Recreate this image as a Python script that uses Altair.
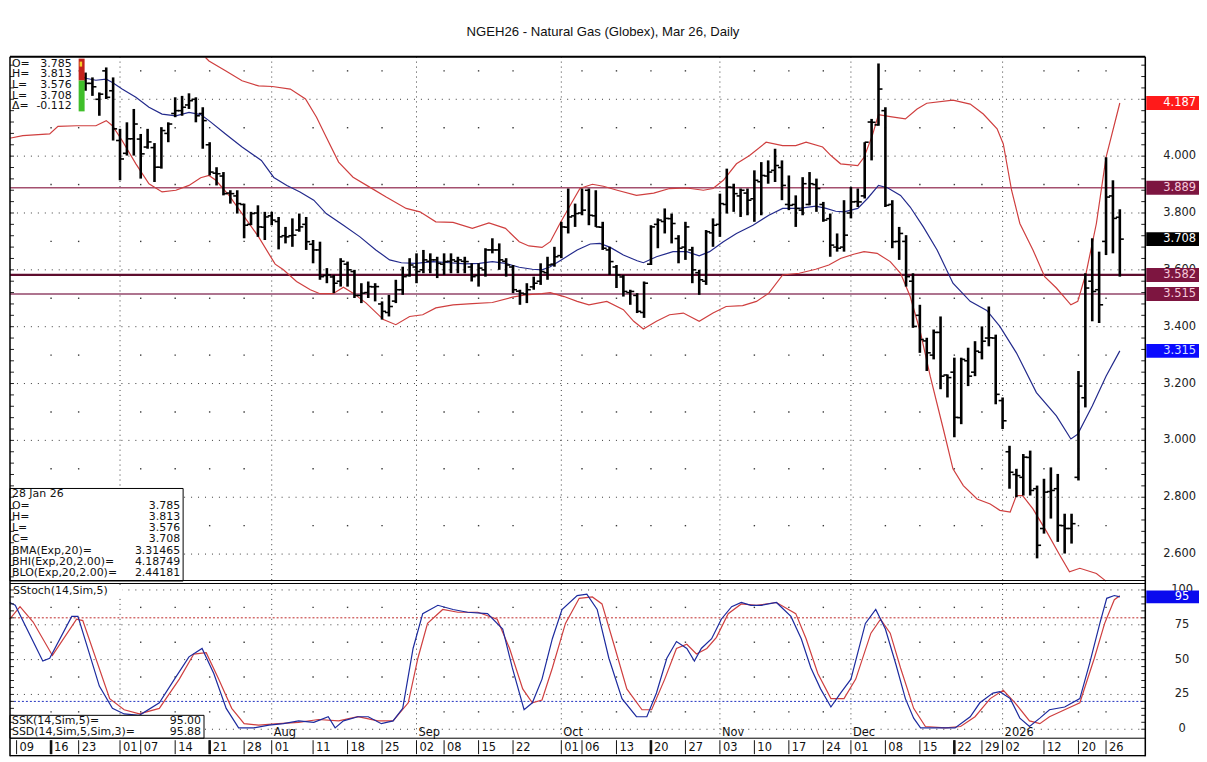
import altair as alt
import pandas as pd

TITLE = "NGEH26 - Natural Gas (Globex), Mar 26, Daily"

# ---------------- price bars (trading-day index, 0 = 23 Jun 2025) ----------------
DAYS = list(range(1, 152))
OPEN = [4.276, 4.256, 4.200, 4.300, 4.230, 4.055, 4.010, 4.061, 4.060, 4.032,
        4.030, 3.961, 4.080, 4.150, 4.160, 4.180, 4.200, 4.150, 4.040, 3.940,
        3.930, 3.870, 3.860, 3.830, 3.760, 3.800, 3.750, 3.790, 3.770, 3.720,
        3.720, 3.740, 3.760, 3.690, 3.670, 3.580, 3.575, 3.560, 3.620, 3.594,
        3.510, 3.520, 3.540, 3.480, 3.450, 3.490, 3.530, 3.580, 3.610, 3.600,
        3.630, 3.635, 3.620, 3.630, 3.630, 3.630, 3.610, 3.580, 3.600, 3.670,
        3.670, 3.630, 3.610, 3.525, 3.515, 3.540, 3.560, 3.590, 3.620, 3.650,
        3.750, 3.790, 3.800, 3.880, 3.790, 3.750, 3.670, 3.610, 3.575, 3.520,
        3.510, 3.450, 3.620, 3.760, 3.770, 3.780, 3.710, 3.680, 3.670, 3.590,
        3.560, 3.730, 3.760, 3.830, 3.890, 3.860, 3.870, 3.850, 3.910, 3.930,
        3.950, 3.960, 3.830, 3.830, 3.810, 3.830, 3.900, 3.830, 3.780, 3.680,
        3.680, 3.800, 3.840, 3.860, 4.120, 4.110, 4.160, 3.830, 3.700, 3.700,
        3.560, 3.440, 3.350, 3.300, 3.380, 3.230, 3.240, 3.080, 3.280, 3.240,
        3.310, 3.360, 3.360, 3.140, 2.960, 2.880, 2.870, 2.940, 2.830, 2.690,
        2.820, 2.830, 2.700, 2.690, 2.870, 3.150, 3.560, 3.530, 3.700, 3.860,
        3.785]
HIGH = [4.294, 4.277, 4.224, 4.312, 4.277, 4.096, 4.119, 4.166, 4.078, 4.096,
        4.046, 4.102, 4.119, 4.207, 4.212, 4.221, 4.207, 4.172, 4.049, 3.961,
        3.944, 3.880, 3.880, 3.833, 3.804, 3.827, 3.804, 3.804, 3.786, 3.751,
        3.781, 3.798, 3.786, 3.705, 3.699, 3.606, 3.582, 3.641, 3.629, 3.600,
        3.553, 3.559, 3.553, 3.489, 3.512, 3.565, 3.611, 3.641, 3.658, 3.670,
        3.658, 3.646, 3.658, 3.658, 3.646, 3.646, 3.623, 3.623, 3.676, 3.711,
        3.693, 3.641, 3.617, 3.530, 3.553, 3.576, 3.623, 3.646, 3.681, 3.769,
        3.886, 3.833, 3.886, 3.886, 3.880, 3.769, 3.681, 3.617, 3.582, 3.530,
        3.518, 3.559, 3.757, 3.781, 3.816, 3.798, 3.722, 3.769, 3.681, 3.600,
        3.740, 3.781, 3.868, 3.956, 3.903, 3.886, 3.886, 3.950, 3.979, 3.985,
        4.026, 3.985, 3.932, 3.862, 3.926, 3.944, 3.921, 3.839, 3.798, 3.728,
        3.845, 3.891, 3.886, 4.049, 4.131, 4.326, 4.172, 3.845, 3.751, 3.722,
        3.588, 3.477, 3.361, 3.390, 3.436, 3.232, 3.291, 3.291, 3.326, 3.349,
        3.401, 3.471, 3.372, 3.151, 2.981, 2.900, 2.952, 2.964, 2.841, 2.865,
        2.905, 2.882, 2.742, 2.742, 3.244, 3.588, 3.711, 3.664, 3.996, 3.915,
        3.813]
LOW = [4.230, 4.212, 4.142, 4.201, 4.055, 3.915, 4.002, 4.002, 3.921, 4.026,
       3.909, 3.956, 4.049, 4.137, 4.142, 4.166, 4.119, 4.026, 3.932, 3.897,
       3.862, 3.833, 3.798, 3.711, 3.757, 3.716, 3.705, 3.757, 3.672, 3.693,
       3.681, 3.734, 3.670, 3.623, 3.565, 3.553, 3.518, 3.541, 3.541, 3.501,
       3.483, 3.501, 3.489, 3.425, 3.436, 3.483, 3.512, 3.576, 3.553, 3.588,
       3.588, 3.571, 3.582, 3.588, 3.588, 3.588, 3.559, 3.541, 3.576, 3.658,
       3.600, 3.576, 3.518, 3.477, 3.483, 3.530, 3.547, 3.565, 3.611, 3.641,
       3.728, 3.751, 3.792, 3.757, 3.751, 3.670, 3.582, 3.536, 3.506, 3.477,
       3.448, 3.431, 3.617, 3.676, 3.728, 3.693, 3.623, 3.635, 3.553, 3.512,
       3.547, 3.681, 3.716, 3.798, 3.804, 3.786, 3.792, 3.769, 3.792, 3.903,
       3.909, 3.845, 3.810, 3.751, 3.792, 3.827, 3.804, 3.769, 3.646, 3.664,
       3.664, 3.781, 3.821, 3.851, 3.985, 4.107, 3.821, 3.676, 3.635, 3.541,
       3.396, 3.308, 3.244, 3.285, 3.180, 3.151, 3.011, 3.057, 3.191, 3.226,
       3.285, 3.331, 3.127, 3.040, 2.830, 2.800, 2.806, 2.806, 2.585, 2.672,
       2.725, 2.643, 2.602, 2.637, 2.859, 3.116, 3.419, 3.413, 3.652, 3.658,
       3.576]
CLOSE = [4.256, 4.244, 4.218, 4.207, 4.096, 3.990, 4.061, 4.113, 4.008, 4.050,
         3.961, 4.090, 4.113, 4.160, 4.172, 4.195, 4.142, 4.125, 3.944, 3.938,
         3.868, 3.868, 3.833, 3.757, 3.798, 3.751, 3.786, 3.775, 3.716, 3.716,
         3.722, 3.751, 3.699, 3.670, 3.576, 3.582, 3.553, 3.630, 3.600, 3.510,
         3.518, 3.541, 3.541, 3.454, 3.471, 3.530, 3.576, 3.617, 3.594, 3.635,
         3.635, 3.623, 3.629, 3.635, 3.635, 3.629, 3.576, 3.606, 3.670, 3.670,
         3.635, 3.617, 3.530, 3.518, 3.530, 3.553, 3.594, 3.617, 3.646, 3.751,
         3.786, 3.798, 3.810, 3.792, 3.751, 3.676, 3.629, 3.582, 3.524, 3.524,
         3.454, 3.553, 3.751, 3.775, 3.781, 3.763, 3.676, 3.751, 3.600, 3.565,
         3.734, 3.757, 3.833, 3.891, 3.868, 3.880, 3.845, 3.915, 3.932, 3.944,
         3.967, 3.897, 3.827, 3.816, 3.903, 3.903, 3.886, 3.775, 3.687, 3.676,
         3.722, 3.839, 3.839, 4.049, 4.119, 4.236, 3.827, 3.699, 3.728, 3.576,
         3.401, 3.355, 3.308, 3.380, 3.226, 3.221, 3.081, 3.285, 3.226, 3.314,
         3.349, 3.361, 3.162, 3.069, 2.888, 2.876, 2.941, 2.824, 2.631, 2.818,
         2.824, 2.701, 2.690, 2.707, 3.191, 3.536, 3.524, 3.477, 3.856, 3.781,
         3.708]

# ---------------- Bollinger bands ----------------
BBU_DAY = [18.4, 18.9, 21.3, 23.7, 26.1, 28.1, 30.7, 32.9, 34.5, 35.9,
           37.7, 39.8, 42.2, 44.6, 47.5, 49.5, 51.8, 54.3, 57.1, 59.5,
           61.9, 63.9, 65.3, 67.2, 68.4, 69.8, 71.3, 72.7, 74.5, 76.1,
           78.1, 80.9, 83.4, 85.7, 88.2, 90.6, 92.0, 93.5, 95.4, 97.3,
           99.7, 102.1, 104.0, 105.5, 107.9, 109.1, 110.5, 113.0, 113.9, 115.1,
           116.0, 117.7, 119.9, 121.6, 123.0, 126.8, 129.3, 131.2, 133.2, 134.1,
           135.3, 136.5, 138.4, 140.1, 141.8, 143.9, 144.9, 146.1, 147.6, 149.0,
           151]
BBU = [4.347, 4.335, 4.300, 4.265, 4.247, 4.245, 4.236, 4.201, 4.137, 4.067,
       3.979, 3.926, 3.891, 3.856, 3.816, 3.804, 3.769, 3.767, 3.746, 3.765,
       3.746, 3.699, 3.684, 3.679, 3.699, 3.763, 3.827, 3.886, 3.901, 3.894,
       3.880, 3.862, 3.870, 3.886, 3.888, 3.880, 3.886, 3.915, 3.973, 4.002,
       4.049, 4.037, 4.037, 4.049, 4.032, 4.002, 3.973, 3.967, 3.996, 4.072,
       4.146, 4.139, 4.131, 4.166, 4.186, 4.197, 4.183, 4.148, 4.096, 4.043,
       3.880, 3.763, 3.670, 3.576, 3.536, 3.477, 3.489, 3.588, 3.763, 3.996,
       4.187]
BBM_DAY = [1, 2.5, 4, 4.9, 6.3, 8.3, 10.2, 12.1, 14.1, 16,
           17.7, 18.9, 21.3, 23.7, 26.5, 28.3, 30.2, 32.1, 34.1, 35.9,
           38.4, 40.8, 43.1, 45.1, 46.8, 48.9, 51.4, 53.8, 56.1, 58.1,
           60.0, 61.9, 63.9, 65.8, 67.2, 68.4, 70.4, 72.3, 74.2, 75.6,
           77.1, 79.0, 81.0, 81.9, 83.8, 86.2, 88.2, 90.0, 91.5, 93.5,
           95.4, 97.8, 100.1, 102.1, 104.5, 106.9, 108.4, 109.8, 111.0, 113.0,
           114.4, 116.0, 117.3, 119.2, 120.6, 122.5, 124.5, 126.8, 129.3, 131.7,
           133.6, 136.0, 138.9, 141.8, 143.9, 144.9, 147.0, 149.0, 151]
BBM = [4.274, 4.267, 4.271, 4.259, 4.236, 4.207, 4.172, 4.148, 4.142, 4.154,
       4.146, 4.125, 4.078, 4.032, 3.985, 3.925, 3.897, 3.874, 3.845, 3.798,
       3.757, 3.716, 3.670, 3.635, 3.625, 3.623, 3.629, 3.625, 3.621, 3.623,
       3.629, 3.623, 3.609, 3.602, 3.600, 3.611, 3.641, 3.670, 3.691, 3.693,
       3.679, 3.652, 3.632, 3.625, 3.646, 3.664, 3.664, 3.649, 3.664, 3.699,
       3.728, 3.757, 3.792, 3.816, 3.816, 3.824, 3.816, 3.806, 3.804, 3.816,
       3.851, 3.897, 3.889, 3.862, 3.821, 3.751, 3.670, 3.553, 3.489, 3.457,
       3.401, 3.308, 3.168, 3.086, 3.005, 3.022, 3.121, 3.226, 3.315]
BBL_DAY = [-10, -8.1, -4.2, -3.0, -0.3, 2.5, 4, 4.9, 6.3, 8.3,
           10.2, 12.1, 14.1, 16, 17.7, 18.9, 19.9, 21.8, 23.7, 26.1,
           28.5, 29.7, 31.6, 33.6, 35.0, 36.9, 38.4, 39.8, 41.7, 44.2,
           46.0, 48.0, 49.9, 51.8, 54.3, 57.1, 60.0, 62.9, 64.8, 67.2,
           68.4, 70.4, 72.3, 74.0, 76.6, 79.0, 80.5, 81.9, 83.8, 85.7,
           87.7, 90.0, 92.0, 93.9, 96.3, 98.3, 100.1, 102.1, 104.5, 106.9,
           108.8, 110.5, 112.4, 113.9, 115.8, 117.7, 119.2, 120.6, 122.1, 123.5,
           125.4, 126.8, 128.3, 130.3, 132.2, 133.6, 135.1, 136.0, 136.9, 138.4,
           140.4, 142.3, 143.7, 145.2, 147.6, 149.0]
BBL = [4.063, 4.072, 4.078, 4.105, 4.107, 4.107, 4.125, 4.107, 4.055, 3.973,
       3.903, 3.874, 3.880, 3.897, 3.924, 3.932, 3.915, 3.862, 3.798, 3.716,
       3.620, 3.600, 3.559, 3.530, 3.516, 3.516, 3.539, 3.518, 3.483, 3.425,
       3.407, 3.436, 3.442, 3.466, 3.477, 3.481, 3.485, 3.504, 3.512, 3.516,
       3.520, 3.506, 3.489, 3.477, 3.489, 3.460, 3.419, 3.392, 3.419, 3.442,
       3.448, 3.419, 3.448, 3.471, 3.474, 3.489, 3.518, 3.582, 3.588, 3.602,
       3.617, 3.640, 3.655, 3.664, 3.658, 3.629, 3.588, 3.506, 3.378, 3.226,
       3.040, 2.900, 2.841, 2.794, 2.776, 2.754, 2.748, 2.806, 2.806, 2.759,
       2.678, 2.596, 2.538, 2.550, 2.532, 2.505]

# ---------------- slow stochastic ----------------
SSK_DAY = [-10, -9.2, -5.2, -4.2, -1.0, -0.1, 3.0, 4.9, 6.6, 8.8,
           11.7, 13.9, 16.0, 17.9, 19.6, 21.4, 23.2, 25.4, 27.6, 29.7,
           31.9, 34.1, 36.2, 37.2, 38.4, 40.5, 42.0, 43.9, 45.6, 47.0,
           48.5, 49.9, 52.1, 54.3, 56.4, 59.3, 61.5, 62.9, 64.6, 65.8,
           67.2, 68.7, 70.1, 72.3, 73.7, 75.2, 76.9, 78.8, 80.9, 82.4,
           83.8, 85.3, 86.7, 88.2, 89.3, 90.3, 91.8, 93.2, 94.7, 96.1,
           97.5, 99.0, 101.2, 103.3, 104.8, 106.2, 107.6, 109.1, 110.5, 112.0,
           114.1, 115.6, 117.0, 118.5, 119.9, 121.1, 122.1, 124.2, 127.1, 129.3,
           130.7, 132.6, 133.6, 135.1, 136.5, 137.9, 139.4, 140.8, 143.0, 145.2,
           146.6, 148.1, 149.1, 150.2, 151]
SSK = [91, 89, 49, 51, 81, 81, 31, 15, 11, 10,
       19, 36, 52, 58, 40, 15, 1, 1, 3, 4,
       6, 5, 9, 1, 6, 9, 9, 4, 6, 15,
       58, 83, 89, 86, 84, 83, 72, 44, 14, 19,
       36, 65, 86, 96, 97, 86, 51, 22, 9, 9,
       26, 51, 63, 58, 49, 58, 65, 79, 88, 91,
       89, 89, 91, 81, 65, 44, 29, 16, 26, 36,
       76, 86, 72, 47, 22, 8, 1, 1, 1, 9,
       19, 26, 27, 22, 8, 2, 8, 14, 16, 22,
       47, 76, 94, 96, 95]
SSD_DAY = [-10, -8.5, -6.6, -3.8, -0.3, 0.6, 4.5, 6.6, 8.8, 11.7,
           14.6, 16.7, 18.5, 20.3, 22.2, 24.0, 26.1, 29.0, 31.9, 34.8,
           37.7, 40.5, 43.4, 45.6, 47.8, 49.2, 50.6, 52.8, 55.0, 57.9,
           60.7, 62.5, 64.4, 65.8, 67.2, 68.7, 70.6, 72.6, 74.5, 75.9,
           77.8, 79.5, 81.7, 83.1, 85.0, 86.7, 88.2, 89.6, 91.1, 92.5,
           94.2, 96.1, 98.3, 101.2, 104.0, 105.5, 107.2, 109.1, 111.0, 112.7,
           114.9, 116.3, 117.7, 119.2, 121.1, 122.8, 125.7, 127.9, 130.0, 132.2,
           134.1, 135.8, 137.9, 139.4, 140.8, 143.0, 145.2, 147.3, 148.8, 150.2,
           151]
SSD = [79, 88, 77, 53, 79, 78, 22, 14, 11, 15,
       36, 54, 55, 36, 15, 4, 3, 4, 5, 7,
       6, 9, 6, 6, 19, 51, 76, 86, 84, 84,
       79, 58, 29, 19, 21, 44, 76, 94, 95, 90,
       58, 29, 14, 14, 36, 58, 61, 54, 58, 66,
       83, 90, 89, 91, 83, 65, 40, 22, 22, 36,
       69, 79, 69, 44, 15, 2, 1, 2, 9, 22,
       28, 19, 6, 4, 9, 14, 19, 51, 76, 93,
       95.88]

# ---------------- levels, ticks, labels ----------------
LEVELS = [3.889, 3.582, 3.515]
LEVEL_COLORS = ["#a4506f", "#5e0d2e", "#93466a"]
LEVEL_WIDTHS = [1.5, 2.2, 1.5]

PRICE_TICKS = [2.6, 2.8, 3.0, 3.2, 3.4, 3.6, 3.8, 4.0, 4.2]
PRICE_LABELS = [2.6, 2.8, 3.0, 3.2, 3.4, 3.6, 3.8, 4.0]
PRICE_MID = [2.7, 2.9, 3.1, 3.3, 3.5, 3.7, 3.9, 4.1, 4.3]
STOCH_TICKS = [0, 25, 50, 75, 100]
STOCH_MID = [12.5, 37.5, 62.5, 87.5]

BOX_VALUES = [4.187, 3.889, 3.708, 3.582, 3.515, 3.315]
BOX_FILLS = ["#ff1a1a", "#7d1540", "#000000", "#7d1540", "#7d1540", "#0a0aff"]
BOX_TEXT = ["#ffffff", "#f6c9da", "#ffffff", "#f6c9da", "#f6c9da", "#d7e0ff"]
STOCH_BOX = [95]

MONTH_DAYS = [6, 28, 49, 70, 93, 112, 134]
MONTH_LABEL_DAYS = [28, 49, 70, 93, 112, 134]
MONTH_LABELS = ["Aug", "Sep", "Oct", "Nov", "Dec", "2026"]
WEEK_DAYS = [-4, 0, 9, 14, 19, 24, 34, 39, 44, 53, 58, 63, 73, 78, 83, 88,
             98, 103, 108, 117, 122, 127, 131, 140, 145, 149]
DATE_DAYS = [-9, -4, 0, 6, 9, 14, 19, 24, 28, 34, 39, 44, 49, 53, 58, 63, 70,
             73, 78, 83, 88, 93, 98, 103, 108, 112, 117, 122, 127, 131, 134,
             140, 145, 149]
DATE_LABELS = ["09", "16", "23", "01", "07", "14", "21", "28", "01", "11", "18",
               "25", "02", "08", "15", "22", "01", "06", "13", "20", "27", "03",
               "10", "17", "24", "01", "08", "15", "22", "29", "02", "12", "20",
               "26"]
THICK_DAYS = [-4, 19, 83, 127]

LEGEND_LABELS = ["O=", "H=", "L=", "L=", "\u0394="]
LEGEND_VALUES = ["3.785", "3.813", "3.576", "3.708", "-0.112"]
INFO_LABELS = ["28 Jan 26", "O=", "H=", "L=", "C=", "BMA(Exp,20)=",
               "BHI(Exp,20,2.00)=", "BLO(Exp,20,2.00)="]
INFO_VALUES = ["", "3.785", "3.813", "3.576", "3.708", "3.31465", "4.18749",
               "2.44181"]
STO_LABELS = ["SSK(14,Sim,5)=", "SSD(14,Sim,5,Sim,3)="]
STO_VALUES = ["95.00", "95.88"]

# ---------------- geometry ----------------
W, H = 1141, 703
MAIN_B = 527
STO_T, STO_B = 530, 685
XS = alt.Scale(domain=[-9.957, 154.69], nice=False, zero=False)
PS = alt.Scale(domain=[2.5053, 4.350], range=[MAIN_B, 0], nice=False, zero=False)
SS = alt.Scale(domain=[-6.43, 104.29], range=[STO_B, STO_T], nice=False, zero=False)
FONT = "DejaVu Sans"
RED = "#cf3f3f"
NAVY = "#232a8c"
DOT = "#3a3a3a"


def X(f):
    return alt.X(f + ":Q", scale=XS, axis=None)


def YP(f):
    return alt.Y(f + ":Q", scale=PS, axis=None)


def YS(f):
    return alt.Y(f + ":Q", scale=SS, axis=None)


one = pd.DataFrame({"k": [0]})
L = []


def rect(x1, x2, y1, y2, **kw):
    return alt.Chart(one).mark_rect(**kw).encode(
        x=alt.value(x1), x2=alt.value(x2), y=alt.value(y1), y2=alt.value(y2))


def hline(y, x1=0, x2=W, **kw):
    return alt.Chart(one).mark_rule(**kw).encode(
        x=alt.value(x1), x2=alt.value(x2), y=alt.value(y))


def vline(x, y1=0, y2=H, **kw):
    return alt.Chart(one).mark_rule(**kw).encode(
        x=alt.value(x), y=alt.value(y1), y2=alt.value(y2))


# grid
L.append(alt.Chart(pd.DataFrame({"v": PRICE_TICKS})).mark_rule(
    color=DOT, strokeWidth=1, strokeDash=[1, 6]).encode(
    y=YP("v"), x=alt.value(0), x2=alt.value(W)))
L.append(alt.Chart(pd.DataFrame({"v": STOCH_TICKS})).mark_rule(
    color=DOT, strokeWidth=1, strokeDash=[1, 6]).encode(
    y=YS("v"), x=alt.value(0), x2=alt.value(W)))
L.append(alt.Chart(pd.DataFrame({"d": MONTH_DAYS})).mark_rule(
    color=DOT, strokeWidth=1, strokeDash=[1, 4]).encode(
    x=X("d"), y=alt.value(0), y2=alt.value(STO_B)))
L.append(alt.Chart(pd.DataFrame([(d, v) for d in WEEK_DAYS for v in PRICE_MID],
                                columns=["d", "v"])).mark_square(
    size=2, color=DOT, opacity=1).encode(x=X("d"), y=YP("v")))
L.append(alt.Chart(pd.DataFrame([(d, v) for d in WEEK_DAYS for v in STOCH_MID],
                                columns=["d", "v"])).mark_square(
    size=2, color=DOT, opacity=1).encode(x=X("d"), y=YS("v")))

# horizontal level lines
for v, col, w in zip(LEVELS, LEVEL_COLORS, LEVEL_WIDTHS):
    L.append(alt.Chart(pd.DataFrame({"v": [v]})).mark_rule(
        color=col, strokeWidth=w).encode(y=YP("v"), x=alt.value(0), x2=alt.value(W)))

# Bollinger bands
for dd, vv, col in [(BBU_DAY, BBU, RED), (BBL_DAY, BBL, RED), (BBM_DAY, BBM, NAVY)]:
    L.append(alt.Chart(pd.DataFrame({"d": dd, "v": vv})).mark_line(
        color=col, strokeWidth=1.2, clip=True).encode(x=X("d"), y=YP("v")))

# OHLC bars
bars = pd.DataFrame({"d": DAYS, "o": OPEN, "h": HIGH, "l": LOW, "c": CLOSE})
L.append(alt.Chart(bars).mark_rule(color="#000", strokeWidth=2.6).encode(
    x=X("d"), y=YP("h"), y2=alt.Y2("l")))
L.append(alt.Chart(bars).mark_rule(color="#000", strokeWidth=1.6, x2Offset=-4).encode(
    x=X("d"), x2=alt.X2("d"), y=YP("o")))
L.append(alt.Chart(bars).mark_rule(color="#000", strokeWidth=1.6, x2Offset=4).encode(
    x=X("d"), x2=alt.X2("d"), y=YP("c")))

# stochastic panel
L.append(alt.Chart(pd.DataFrame({"v": [80]})).mark_rule(
    color="#c02828", strokeWidth=1, strokeDash=[2, 2]).encode(
    y=YS("v"), x=alt.value(0), x2=alt.value(W)))
L.append(alt.Chart(pd.DataFrame({"v": [20]})).mark_rule(
    color="#2030c0", strokeWidth=1, strokeDash=[2, 2]).encode(
    y=YS("v"), x=alt.value(0), x2=alt.value(W)))
L.append(alt.Chart(pd.DataFrame({"d": SSD_DAY, "v": SSD})).mark_line(
    color=RED, strokeWidth=1.2).encode(x=X("d"), y=YS("v")))
L.append(alt.Chart(pd.DataFrame({"d": SSK_DAY, "v": SSK})).mark_line(
    color="#1c2a9e", strokeWidth=1.2).encode(x=X("d"), y=YS("v")))

# month labels in the lower panel
L.append(alt.Chart(pd.DataFrame({"d": MONTH_LABEL_DAYS, "t": MONTH_LABELS})).mark_text(
    align="left", baseline="alphabetic", dx=2, fontSize=11.5, font=FONT, color="#111").encode(
    x=X("d"), y=alt.value(683), text="t:N"))

# top-left legend box
L.append(rect(0, 69, 1, 57, fill="white"))
L.append(rect(69, 75, 2, 24, fill="#c4221c"))
L.append(rect(69, 75, 24, 55, fill="#3fbf2a"))
L.append(rect(70, 72.5, 5, 10, fill="#f4d02a"))
leg = pd.DataFrame({"r": list(range(len(LEGEND_LABELS))), "a": LEGEND_LABELS, "b": LEGEND_VALUES})
RY = alt.Y("r:Q", scale=alt.Scale(domain=[0, 4], range=[7, 50]), axis=None)
L.append(alt.Chart(leg).mark_text(align="left", baseline="middle", fontSize=11,
                                  font=FONT, color="#111").encode(
    x=alt.value(2), y=RY, text="a:N"))
L.append(alt.Chart(leg).mark_text(align="right", baseline="middle", fontSize=11,
                                  font=FONT, color="#111").encode(
    x=alt.value(62), y=RY, text="b:N"))

# bottom-left info box (main panel)
L.append(rect(0, 174, 434, 527, fill="white", stroke="black", strokeWidth=1))
info = pd.DataFrame({"r": list(range(len(INFO_LABELS))), "a": INFO_LABELS, "b": INFO_VALUES})
IY = alt.Y("r:Q", scale=alt.Scale(domain=[0, 7], range=[440, 519]), axis=None)
L.append(alt.Chart(info).mark_text(align="left", baseline="middle", fontSize=11,
                                  font=FONT, color="#111").encode(
    x=alt.value(2), y=IY, text="a:N"))
L.append(alt.Chart(info).mark_text(align="right", baseline="middle", fontSize=11,
                                  font=FONT, color="#111").encode(
    x=alt.value(171), y=IY, text="b:N"))

# stochastic title and value box
L.append(rect(1, 113, 531, 543, fill="white"))
L.append(alt.Chart(one).mark_text(align="left", baseline="middle", fontSize=11,
                                 font=FONT, color="#111").encode(
    x=alt.value(3), y=alt.value(537), text=alt.value("SStoch(14,Sim,5)")))
L.append(rect(0, 195, 662, 685, fill="white", stroke="black", strokeWidth=1))
sto = pd.DataFrame({"r": [0, 1], "a": STO_LABELS, "b": STO_VALUES})
SY = alt.Y("r:Q", scale=alt.Scale(domain=[0, 1], range=[668, 679]), axis=None)
L.append(alt.Chart(sto).mark_text(align="left", baseline="middle", fontSize=11,
                                  font=FONT, color="#111").encode(
    x=alt.value(2), y=SY, text="a:N"))
L.append(alt.Chart(sto).mark_text(align="right", baseline="middle", fontSize=11,
                                  font=FONT, color="#111").encode(
    x=alt.value(192), y=SY, text="b:N"))

# right-edge and left-edge minor ticks
for x1, x2 in [(W - 4, W), (0, 4)]:
    L.append(alt.Chart(alt.sequence(2.52, 4.35, 0.04, as_="v")).mark_rule(
        color="#222", strokeWidth=1).encode(y=YP("v"), x=alt.value(x1), x2=alt.value(x2)))
    L.append(alt.Chart(alt.sequence(0, 101, 5, as_="v")).mark_rule(
        color="#222", strokeWidth=1).encode(y=YS("v"), x=alt.value(x1), x2=alt.value(x2)))

# right axis labels
L.append(alt.Chart(pd.DataFrame({"v": PRICE_LABELS})).mark_text(
    align="right", baseline="middle", fontSize=11.5, font=FONT, color="#222").encode(
    x=alt.value(1192), y=YP("v"), text=alt.Text("v:Q", format=".3f")))
L.append(alt.Chart(pd.DataFrame({"v": STOCH_TICKS})).mark_text(
    align="center", baseline="middle", fontSize=11.5, font=FONT, color="#222").encode(
    x=alt.value(1178), y=YS("v"), text=alt.Text("v:Q", format="d")))

# coloured value boxes
for v, fill, tc in zip(BOX_VALUES, BOX_FILLS, BOX_TEXT):
    base = alt.Chart(pd.DataFrame({"v": [v]}))
    L.append(base.transform_calculate(a="datum.v + 0.0245", b="datum.v - 0.0245").mark_rect(
        fill=fill).encode(x=alt.value(1142), x2=alt.value(1195), y=YP("a"), y2=alt.Y2("b")))
    L.append(base.mark_text(align="right", baseline="middle", fontSize=11.5, font=FONT,
                            color=tc).encode(
        x=alt.value(1192), y=YP("v"), text=alt.Text("v:Q", format=".3f")))
for v in STOCH_BOX:
    base = alt.Chart(pd.DataFrame({"v": [v]}))
    L.append(base.transform_calculate(a="datum.v + 4.6", b="datum.v - 4.6").mark_rect(
        fill="#0a0aee").encode(x=alt.value(1142), x2=alt.value(1195), y=YS("a"), y2=alt.Y2("b")))
    L.append(base.mark_text(align="center", baseline="middle", fontSize=11.5, font=FONT,
                            color="white").encode(
        x=alt.value(1178), y=YS("v"), text=alt.Text("v:Q", format="d")))

# date strip
dates = pd.DataFrame({"d": DATE_DAYS, "t": DATE_LABELS})
L.append(alt.Chart(dates).mark_rule(color="#111", strokeWidth=1).encode(
    x=X("d"), y=alt.value(687), y2=alt.value(701)))
L.append(alt.Chart(pd.DataFrame({"d": THICK_DAYS})).mark_rule(color="#111", strokeWidth=2.6).encode(
    x=X("d"), y=alt.value(687), y2=alt.value(701)))
L.append(alt.Chart(dates).mark_text(align="left", baseline="middle", dx=3, fontSize=11.5,
                                    font=FONT, color="#111").encode(
    x=X("d"), y=alt.value(695), text="t:N"))

# frame
L.append(hline(0, strokeWidth=2, color="black"))
L.append(hline(526.5, color="black", strokeWidth=1))
L.append(hline(529.5, color="black", strokeWidth=1))
L.append(hline(STO_B, color="black", strokeWidth=1))
L.append(hline(H - 0.5, color="black", strokeWidth=1.5))
L.append(vline(0, color="black", strokeWidth=1.5))
L.append(vline(W, color="black", strokeWidth=1.5))

# title
L.append(alt.Chart(one).mark_text(align="center", baseline="middle", fontSize=13.2,
                                  font="Liberation Sans", color="#111").encode(
    x=alt.value(596), y=alt.value(-25), text=alt.value(TITLE)))

chart = alt.layer(*L).resolve_scale(y="independent").properties(
    width=W, height=H,
    padding={"left": 2, "top": 47, "right": 54, "bottom": 2},
    autosize=alt.AutoSizeParams(type="none"),
).configure_view(stroke=None).configure(font=FONT, background="white")

chart.save("out.html", embed_options={"renderer": "svg", "actions": False})
